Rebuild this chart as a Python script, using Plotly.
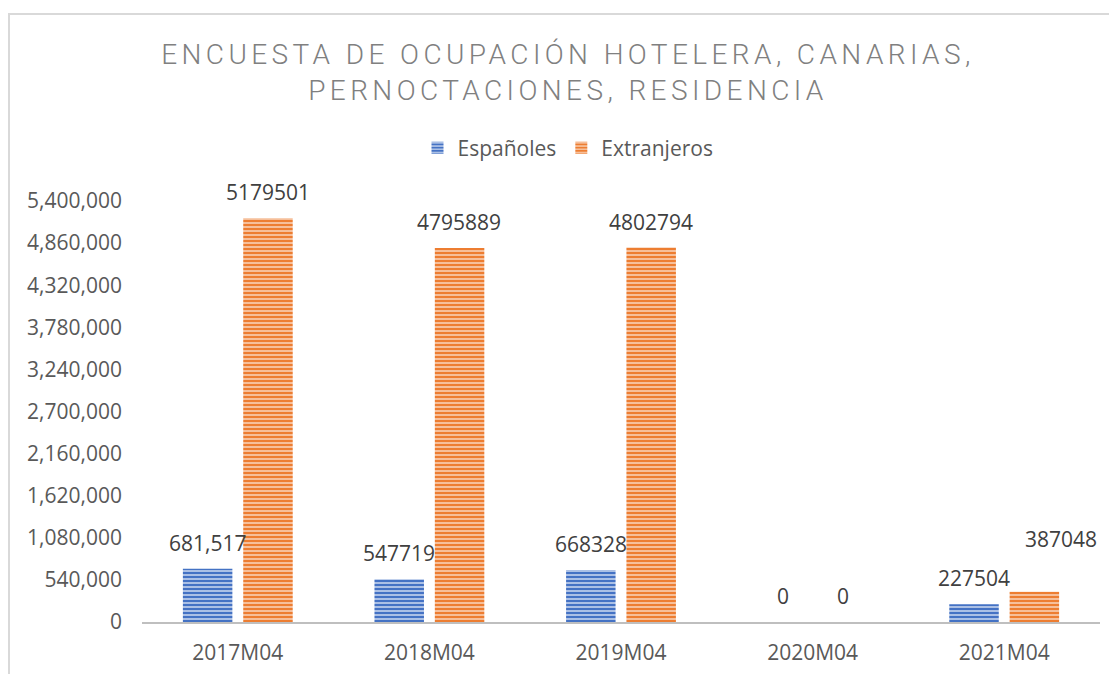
import plotly.graph_objects as go

categories = ["2017M04", "2018M04", "2019M04", "2020M04", "2021M04"]
espanoles = [681517, 547719, 668328, 0, 227504]
extranjeros = [5179501, 4795889, 4802794, 0, 387048]
labels_es = ["681,517", "547719", "668328", "0", "227504"]
labels_ex = ["5179501", "4795889", "4802794", "0", "387048"]
ytickvals = [0, 540000, 1080000, 1620000, 2160000, 2700000, 3240000, 3780000, 4320000, 4860000, 5400000]
title_text = "ENCUESTA DE OCUPACIÓN HOTELERA, CANARIAS,<br>PERNOCTACIONES, RESIDENCIA"

BLUE = "#4472C4"
ORANGE = "#ED7D31"
TXT = "#595959"
FONT = "Open Sans"

W, H = 1117, 674
L, R, T, B = 134, 25, 193, 60
PW, PH = W - L - R, H - T - B

# label nudges (x, y in px) for labels that the original chart places off-centre
label_nudge_ex = {4: (27, 27)}

fig = go.Figure()
fig.add_trace(go.Bar(
    name="Españoles", x=categories, y=espanoles,
    marker=dict(color=BLUE, line=dict(width=0),
                pattern=dict(shape="-", size=4, solidity=0.4, fgcolor="#dce5f5", fgopacity=0.85)),
))
fig.add_trace(go.Bar(
    name="Extranjeros", x=categories, y=extranjeros,
    marker=dict(color=ORANGE, line=dict(width=0),
                pattern=dict(shape="-", size=4, solidity=0.4, fgcolor="#fbe0cc", fgopacity=0.85)),
))

annotations = []
for i, c in enumerate(categories):
    annotations.append(dict(x=c, y=espanoles[i], text=labels_es[i], xref="x", yref="y",
                            showarrow=False, xshift=-30, yshift=10, yanchor="bottom",
                            font=dict(family=FONT, size=21, color="#404040")))
    dx, dy = label_nudge_ex.get(i, (0, 0))
    annotations.append(dict(x=c, y=extranjeros[i], text=labels_ex[i], xref="x", yref="y",
                            showarrow=False, xshift=30 + dx, yshift=10 + dy, yanchor="bottom",
                            font=dict(family=FONT, size=21, color="#404040")))

fig.update_layout(
    width=W, height=H,
    margin=dict(l=L, r=R, t=T, b=B),
    paper_bgcolor="white", plot_bgcolor="white",
    barmode="group", bargap=0.37, bargroupgap=0.18,
    title=dict(text=title_text, x=560 / W, xanchor="center", xref="container",
               y=1 - 56 / H, yanchor="middle", yref="container",
               font=dict(family="Roboto", size=28, color="#808080", weight=300)),
    legend=dict(orientation="h", x=(560 - L) / PW, xanchor="center", y=(PH + T - 140) / PH,
                yanchor="middle", font=dict(family=FONT, size=21, color=TXT),
                itemwidth=30, traceorder="normal"),
    showlegend=True,
    annotations=annotations,
    shapes=[dict(type="rect", xref="paper", yref="paper",
                 x0=(1 - L) / PW, x1=(W + 20 - L) / PW,
                 y0=(T + PH - (H + 20)) / PH, y1=(T + PH - 6) / PH,
                 line=dict(color="#d9d9d9", width=2), fillcolor="rgba(0,0,0,0)", layer="below")],
    font=dict(family=FONT, color=TXT),
)
fig.update_xaxes(showline=True, linecolor="#bfbfbf", linewidth=2, showgrid=False,
                 tickfont=dict(family=FONT, size=21, color=TXT), ticks="", ticklabelstandoff=11)
fig.update_yaxes(range=[0, 5400000], tickvals=ytickvals, tickformat=",", showgrid=False,
                 zeroline=False, showline=False, ticks="",
                 tickfont=dict(family=FONT, size=21, color=TXT), ticklabelstandoff=19)

post = """
document.querySelectorAll('.gtitle').forEach(function(e){e.setAttribute('letter-spacing','4.4px');});
"""
fig.write_html("out.html", post_script=post)
